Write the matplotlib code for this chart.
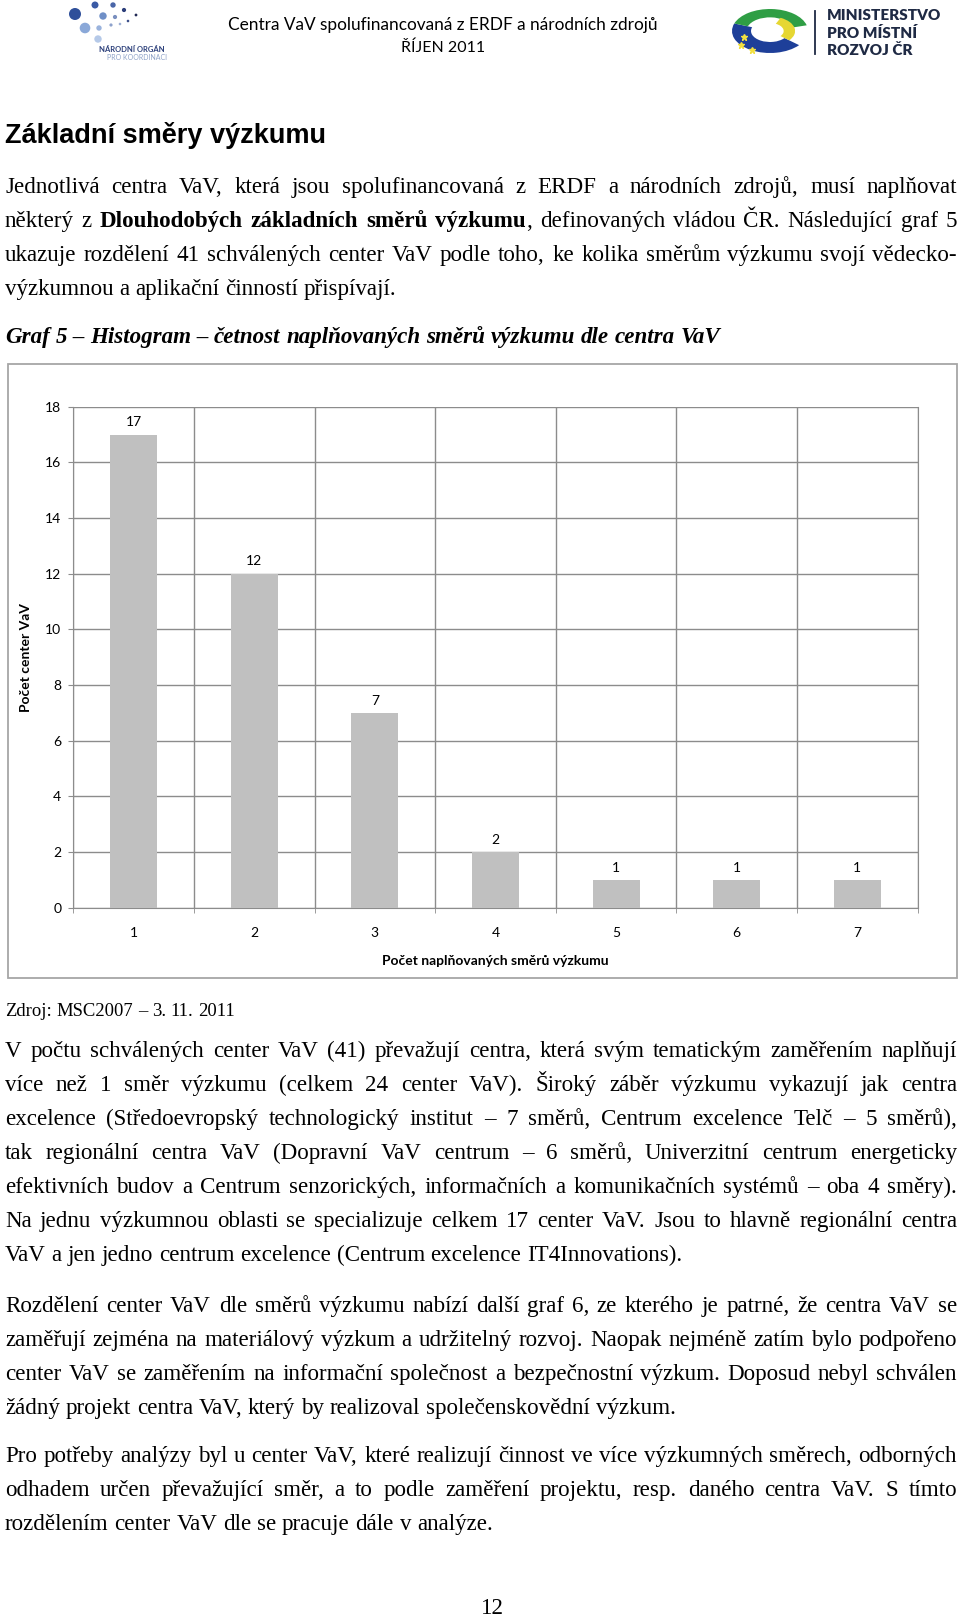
import numpy as np
import matplotlib.pyplot as plt
from matplotlib.patches import Rectangle, Circle, Wedge
from matplotlib.transforms import Affine2D

# data of Graf 5
smery = [1, 2, 3, 4, 5, 6, 7]
pocet_center = [17, 12, 7, 2, 1, 1, 1]
y_ticks = [0, 2, 4, 6, 8, 10, 12, 14, 16, 18]

W, H = 960, 1618
SERIF = ['Liberation Serif', 'DejaVu Serif']
SANS = ['Lato', 'Open Sans', 'DejaVu Sans']
BODY = 16.6
LEFT, RIGHT = 5, 957

fig = plt.figure(figsize=(W / 100, H / 100), dpi=100)
page = fig.add_axes([0, 0, 1, 1])
page.set_xlim(0, W)
page.set_ylim(H, 0)
page.axis('off')
renderer = fig.canvas.get_renderer()


def text_width(s, **kw):
    t = page.text(0, 0, s, **kw)
    w = t.get_window_extent(renderer).width
    t.remove()
    return w


def parse(line):
    # '**' prepina tucne pismo
    words, cur = [], []
    for i, part in enumerate(line.split('**')):
        bold = i % 2 == 1
        for j, p in enumerate(part.split(' ')):
            if j > 0 and cur:
                words.append(cur)
                cur = []
            if p:
                cur.append((p, bold))
    if cur:
        words.append(cur)
    return words


def draw_line(y, line, justify=True, size=BODY, style='normal', weight='normal'):
    words = parse(line)
    kw = dict(fontsize=size, family=SERIF, style=style)
    widths = []
    for w in words:
        widths.append(sum(text_width(p, weight='bold' if b else weight, **kw) for p, b in w))
    if justify and len(words) > 1:
        gap = (RIGHT - LEFT - sum(widths)) / (len(words) - 1)
    else:
        gap = text_width('a a', weight=weight, **kw) - text_width('aa', weight=weight, **kw)
    base = y + 0.42 * size * 100 / 72 * 0.6  # stred radku -> zakladni linka
    x = LEFT
    for w, wd in zip(words, widths):
        xx = x
        for p, b in w:
            wt = 'bold' if b else weight
            page.text(xx, base, p, ha='left', va='baseline', weight=wt, **kw)
            xx += text_width(p, weight=wt, **kw)
        x += wd + gap


def paragraph(y0, lines, step=34.0):
    for i, line in enumerate(lines):
        draw_line(y0 + i * step, line, justify=i < len(lines) - 1)


# ---- zahlavi ----
dots = [(75, 14, 6.0, '#2f4f9a'), (95, 5, 3.5, '#3a5aa5'), (113, 5, 2.7, '#4a66a8'),
        (124, 10, 2.1, '#2c3e7a'), (136, 15, 1.4, '#222a55'), (128, 21, 1.3, '#3b4f8a'),
        (103, 16, 3.7, '#6f8fc7'), (115, 17, 2.1, '#7a8fbf'), (85, 28, 5.3, '#8aa8d8'),
        (99, 28, 2.7, '#9ab3dd'), (111, 25, 1.6, '#8ea2cc'), (98, 39, 3.7, '#b5c9e8'),
        (120, 24, 1.3, '#9fb0d4')]
for x, y, r, c in dots:
    page.add_patch(Circle((x, y), r, color=c, lw=0))
page.text(132, 49, 'NÁRODNÍ ORGÁN', ha='center', va='center', fontsize=5.5,
          weight='bold', color='#2b3f7a', family=SANS)
page.text(137, 57.5, 'PRO KOORDINACI', ha='center', va='center', fontsize=5.0,
          color='#8fa3c8', family=SANS)

page.text(443, 25, 'Centra VaV spolufinancovaná z ERDF a národních zdrojů', ha='center',
          va='center', fontsize=12.4, family=SANS)
page.text(443, 48, 'ŘÍJEN 2011', ha='center', va='center', fontsize=11.5, family=SANS)

# znak MMR - elipticke oblouky
emb = Affine2D().scale(38, 22).translate(770, 31) + page.transData
page.add_patch(Wedge((0, 0), 1, 40, 200, width=0.5, color='#1e3f99', lw=0, transform=emb))
page.add_patch(Wedge((0, 0), 1, 200, 345, width=0.38, color='#2f9e45', lw=0, transform=emb))
page.add_patch(Wedge((0, 0), 0.66, 295, 40, width=0.3, color='#e6d733', lw=0, transform=emb))
page.plot([744, 741, 752], [37, 45, 50], ls='none', marker='*', ms=5, color='#f2e040')
page.plot([815, 815], [11, 54], color='#1f2a44', lw=1.3)
for yy, s in [(15.5, 'MINISTERSTVO'), (33, 'PRO MÍSTNÍ'), (50, 'ROZVOJ ČR')]:
    page.text(827, yy, s, ha='left', va='center', fontsize=11, weight='heavy',
              color='#1f2a44', family=SANS)

# ---- text nad grafem ----
page.text(LEFT, 135, 'Základní směry výzkumu', ha='left', va='center', fontsize=19.5,
          weight='bold', family=['Liberation Sans', 'DejaVu Sans'])
paragraph(187, [
    'Jednotlivá centra VaV, která jsou spolufinancovaná z ERDF a národních zdrojů, musí naplňovat',
    'některý z **Dlouhodobých základních směrů výzkumu**, definovaných vládou ČR. Následující graf 5',
    'ukazuje rozdělení 41 schválených center VaV podle toho, ke kolika směrům výzkumu svojí vědecko-',
    'výzkumnou a aplikační činností přispívají.',
])
draw_line(337.6, 'Graf 5 – Histogram – četnost naplňovaných směrů výzkumu dle centra VaV',
          justify=False, style='italic', weight='bold')

# ---- graf ----
page.add_patch(Rectangle((8, 364), 949, 614, fill=False, ec='#a6a6a6', lw=1.3))
ax = fig.add_axes([73.3 / W, 1 - 907.7 / H, (917.7 - 73.3) / W, (907.7 - 406.7) / H])
grid_c = '#8c8c8c'
bars = ax.bar(smery, pocet_center, width=0.39, color='#c0c0c0', zorder=3)
ax.bar_label(bars, padding=4.5, fontsize=10, family=SANS)
ax.set_xlim(0.5, 7.5)
ax.set_ylim(0, 18)
ax.set_yticks(y_ticks)
ax.set_xticks(smery)
ax.set_xticks(np.arange(0.5, 8, 1), minor=True)
ax.grid(axis='y', which='major', color=grid_c, lw=1, zorder=0)
ax.grid(axis='x', which='minor', color=grid_c, lw=1, zorder=0)
ax.tick_params(axis='x', which='major', length=0, pad=14, labelsize=10)
ax.tick_params(axis='x', which='minor', length=3.6, color=grid_c)
ax.tick_params(axis='y', length=3.6, color=grid_c, pad=5, labelsize=10)
for lab in ax.get_xticklabels() + ax.get_yticklabels():
    lab.set_family(SANS)
ax.spines['top'].set_visible(False)
for s in ['left', 'bottom', 'right']:
    ax.spines[s].set_color(grid_c)
ax.set_xlabel('Počet naplňovaných směrů výzkumu', fontsize=10, weight='bold', family=SANS)
ax.xaxis.set_label_coords(0.5, -0.094)
ax.set_ylabel('Počet center VaV', fontsize=10, weight='bold', family=SANS)
ax.yaxis.set_label_coords(-0.049, 0.5)

# ---- text pod grafem ----
draw_line(1011.6, 'Zdroj: MSC2007 – 3. 11. 2011', justify=False, size=13.4)
paragraph(1051, [
    'V počtu schválených center VaV (41) převažují centra, která svým tematickým zaměřením naplňují',
    'více než 1 směr výzkumu (celkem 24 center VaV). Široký záběr výzkumu vykazují jak centra',
    'excelence (Středoevropský technologický institut – 7 směrů, Centrum excelence Telč – 5 směrů),',
    'tak regionální centra VaV (Dopravní VaV centrum – 6 směrů, Univerzitní centrum energeticky',
    'efektivních budov a Centrum senzorických, informačních a komunikačních systémů – oba 4 směry).',
    'Na jednu výzkumnou oblasti se specializuje celkem 17 center VaV. Jsou to hlavně regionální centra',
    'VaV a jen jedno centrum excelence (Centrum excelence IT4Innovations).',
])
paragraph(1306, [
    'Rozdělení center VaV dle směrů výzkumu nabízí další graf 6, ze kterého je patrné, že centra VaV se',
    'zaměřují zejména na materiálový výzkum a udržitelný rozvoj. Naopak nejméně zatím bylo podpořeno',
    'center VaV se zaměřením na informační společnost a bezpečnostní výzkum. Doposud nebyl schválen',
    'žádný projekt centra VaV, který by realizoval společenskovědní výzkum.',
])
paragraph(1456.6, [
    'Pro potřeby analýzy byl u center VaV, které realizují činnost ve více výzkumných směrech, odborných',
    'odhadem určen převažující směr, a to podle zaměření projektu, resp. daného centra VaV. S tímto',
    'rozdělením center VaV dle se pracuje dále v analýze.',
])
page.text(492, 1608, '12', ha='center', va='center', fontsize=BODY, family=SERIF)

fig.savefig('out.png', dpi=100)
